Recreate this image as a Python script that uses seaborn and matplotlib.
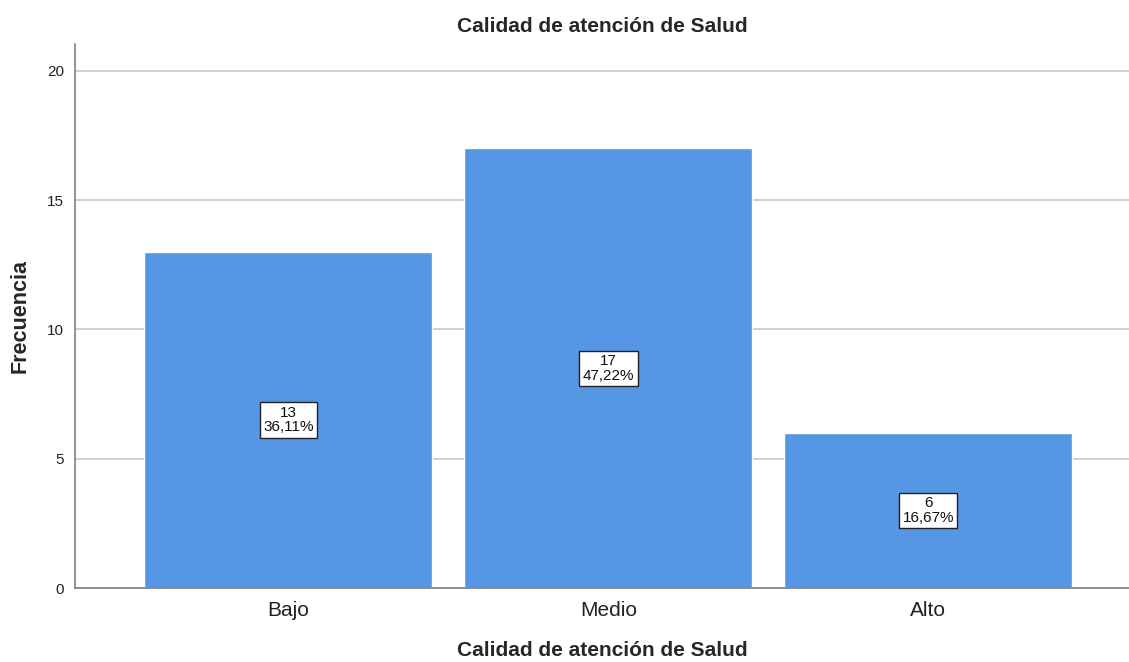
import matplotlib
matplotlib.use("Agg")
import matplotlib.pyplot as plt
import seaborn as sns
import pandas as pd

categories = ["Bajo", "Medio", "Alto"]
counts = [13, 17, 6]
percents = ["36,11%", "47,22%", "16,67%"]
yticks = [0, 5, 10, 15, 20]

sns.set_style("white")
plt.rcParams["font.family"] = ["Liberation Sans", "DejaVu Sans"]

df = pd.DataFrame({"cat": categories, "n": counts})

fig = plt.figure(figsize=(11.29, 6.62), dpi=100)
ax = fig.add_axes([75 / 1129, 74 / 662, 1 - 75 / 1129, (588 - 44) / 662])

sns.barplot(data=df, x="cat", y="n", order=categories, color="#5596E5",
            saturation=1, width=0.9, ax=ax, zorder=3)

ax.set_xlim(-0.667, 2.627)
ax.set_ylim(0, 21.04)
ax.set_yticks(yticks)
ax.set_yticklabels([str(v) for v in yticks], fontsize=11, color="#222222")
ax.tick_params(axis="x", labelsize=15, length=0, pad=9, colors="#222222")
ax.tick_params(axis="y", length=0, pad=8)
ax.grid(axis="y", color="#cccccc", linewidth=1.3, zorder=0)

for s in ["top", "right"]:
    ax.spines[s].set_visible(False)
for s in ["left", "bottom"]:
    ax.spines[s].set_color("#808080")
    ax.spines[s].set_linewidth(1.2)
ax.spines["bottom"].set_zorder(4)

for i, (c, p) in enumerate(zip(counts, percents)):
    ax.text(i, c / 2, f"{c}\n{p}", ha="center", va="center", fontsize=11,
            linespacing=1.05, zorder=5, color="#111111",
            bbox=dict(boxstyle="square,pad=0.22", facecolor="white",
                      edgecolor="#222222", linewidth=1.0))

ax.set_title("Calidad de atención de Salud", fontsize=15, fontweight="bold", pad=9)
ax.set_xlabel("Calidad de atención de Salud", fontsize=15, fontweight="bold")
ax.xaxis.set_label_coords(0.5, (588 - 651) / 544)
ax.xaxis.label.set_va("center")
ax.set_ylabel("Frecuencia", fontsize=15.5, fontweight="bold")
ax.yaxis.set_label_coords((20 - 75) / 1054, 0.5)
ax.yaxis.label.set_va("center")

fig.savefig("out.png", dpi=100)
